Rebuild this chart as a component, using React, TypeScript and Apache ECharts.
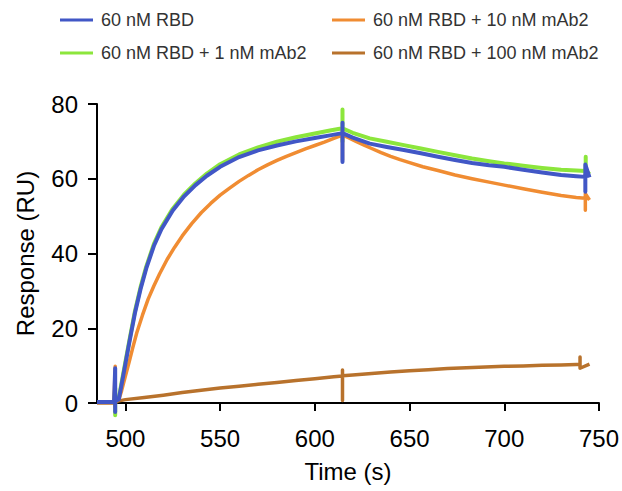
import React, { useEffect, useRef } from "react";
import * as echarts from "echarts";

const seriesNames = [
  "60 nM RBD",
  "60 nM RBD + 10 nM mAb2",
  "60 nM RBD + 1 nM mAb2",
  "60 nM RBD + 100 nM mAb2",
];
const seriesColors = ["#4157c6", "#f08c32", "#8ce63c", "#b8722c"];

const xTicks = [500, 550, 600, 650, 700, 750];

// 60 nM RBD (blue)
const blueT = [485, 490, 494, 494.6, 494.6, 494.6, 496.5, 498, 500, 502, 505, 508, 511, 515, 519, 525, 531, 537, 543, 550, 560, 570, 580, 590, 600, 608, 614.6, 614.6, 614.6, 614.6, 620, 629, 638, 647, 656, 665, 674, 683, 692, 700, 710, 720, 730, 738, 742.8, 742.8, 742.8, 745];
const blueV = [0.3, 0.3, 0.3, 9.3, -2.4, 0.5, 1.0, 5, 10.5, 16, 24, 30.5, 36, 42, 46.5, 51.5, 55.3, 58.3, 60.8, 63.2, 65.8, 67.6, 68.9, 70, 70.9, 71.6, 72.2, 64.5, 75, 72.2, 71, 69.4, 68.5, 67.7, 66.8, 65.9, 65, 64.2, 63.6, 63.2, 62.4, 61.7, 61, 60.7, 60.5, 56.5, 63.8, 60.4];

// 60 nM RBD + 10 nM mAb2 (orange)
const orangeT = [485, 490, 494, 494.6, 494.6, 494.6, 496.5, 498, 500, 502, 504, 506, 509, 512, 515, 518, 522, 526, 530, 535, 540, 545, 550, 555, 560, 565, 570, 575, 580, 585, 590, 595, 600, 605, 610, 614.6, 614.6, 614.6, 618, 622, 626, 630, 635, 640, 645, 650, 657, 665, 674, 683, 692, 700, 710, 720, 730, 738, 742.8, 742.8, 742.8, 745];
const orangeV = [0.2, 0.2, 0.2, 9.8, -1, 0.3, 0.8, 3.3, 7.2, 11.0, 15.0, 18.8, 23.5, 27.8, 31.3, 34.5, 38.4, 41.7, 44.7, 48.0, 50.9, 53.4, 55.6, 57.5, 59.3, 60.9, 62.4, 63.7, 64.9, 66.0, 67.0, 68.0, 68.9, 69.8, 70.8, 71.7, 65, 71.7, 70.9, 69.9, 69.0, 68.1, 67.0, 66.0, 65.1, 64.3, 63.2, 62.2, 61.0, 60.0, 59.1, 58.3, 57.3, 56.4, 55.5, 55.0, 54.8, 51.6, 56, 54.3];

// 60 nM RBD + 1 nM mAb2 (green)
const greenT = [485, 490, 494, 494.6, 494.6, 494.6, 496.5, 498, 500, 502, 505, 508, 511, 515, 519, 525, 531, 537, 543, 550, 560, 570, 580, 590, 600, 608, 614.6, 614.6, 614.6, 614.6, 620, 629, 638, 647, 656, 665, 674, 683, 692, 700, 710, 720, 730, 738, 743, 743, 743, 745];
const greenV = [0.3, 0.3, 0.3, 4, -3.3, 0.5, 1.2, 5.5, 11, 16.5, 24.5, 31, 36.5, 42.5, 47, 52, 55.8, 58.8, 61.4, 63.9, 66.5, 68.4, 69.9, 71.1, 72.1, 72.9, 73.5, 78.5, 70, 73.5, 72.3, 70.8, 69.9, 69, 68.1, 67.2, 66.3, 65.4, 64.7, 64.1, 63.5, 62.9, 62.4, 62.2, 62.1, 65.9, 61, 62];

// 60 nM RBD + 100 nM mAb2 (brown)
const brownT = [485, 490, 494, 496, 500, 510, 520, 530, 540, 550, 560, 570, 580, 590, 600, 610, 614.6, 614.6, 614.6, 614.6, 620, 630, 640, 650, 660, 670, 680, 690, 700, 710, 720, 730, 738, 740, 740, 740, 745];
const brownV = [0, 0, 0, 0.5, 0.9, 1.5, 2.1, 2.8, 3.4, 4.0, 4.5, 5.0, 5.5, 6.0, 6.5, 7.0, 7.2, 0.7, 8.8, 7.3, 7.5, 7.9, 8.3, 8.6, 8.9, 9.2, 9.4, 9.6, 9.8, 9.9, 10.1, 10.2, 10.3, 10.3, 12.3, 9.3, 10.4];

const zip = (t: number[], v: number[]) => t.map((x, i) => [x, v[i]]);

const FONT = "'Liberation Sans', Arial, sans-serif";

export default function App() {
  const ref = useRef<HTMLDivElement>(null);
  useEffect(() => {
    const chart = echarts.init(ref.current!, null, { renderer: "svg" });
    const mk = (idx: number, t: number[], v: number[], width: number, z: number) => ({
      type: "line",
      name: seriesNames[idx],
      data: zip(t, v),
      showSymbol: false,
      symbol: "none",
      clip: false,
      z,
      color: seriesColors[idx],
      itemStyle: { color: seriesColors[idx] },
      lineStyle: { color: seriesColors[idx], width, join: "round" },
      emphasis: { disabled: true },
    });
    const legendCommon = {
      orient: "vertical",
      icon: "rect",
      itemWidth: 33,
      itemHeight: 3,
      itemGap: 13,
      top: 5,
      textStyle: { fontFamily: FONT, fontSize: 18, color: "#333", lineHeight: 20, padding: [0, 0, 0, 3] },
    };
    chart.setOption({
      animation: false,
      grid: { left: 97, right: 22, top: 104, bottom: 88, containLabel: false },
      legend: [
        { ...legendCommon, left: 55, data: [seriesNames[0], seriesNames[2]] },
        { ...legendCommon, left: 327, data: [seriesNames[1], seriesNames[3]] },
      ],
      xAxis: {
        type: "value",
        min: 485,
        max: 750,
        name: "Time (s)",
        nameLocation: "middle",
        nameGap: 56,
        nameTextStyle: { fontFamily: FONT, fontSize: 24, color: "#000" },
        axisLine: { lineStyle: { color: "#000", width: 2 } },
        axisTick: { customValues: xTicks, length: 8, lineStyle: { color: "#000", width: 2 } },
        axisLabel: { customValues: xTicks, fontFamily: FONT, fontSize: 24, color: "#000", margin: 23 },
        splitLine: { show: false },
      },
      yAxis: {
        type: "value",
        min: 0,
        max: 80,
        interval: 20,
        name: "Response (RU)",
        nameLocation: "middle",
        nameGap: 60,
        nameTextStyle: { fontFamily: FONT, fontSize: 24, color: "#000" },
        axisLine: { show: true, lineStyle: { color: "#000", width: 2 } },
        axisTick: { show: true, length: 9, lineStyle: { color: "#000", width: 2 } },
        axisLabel: { fontFamily: FONT, fontSize: 24, color: "#000", margin: 19 },
        splitLine: { show: false },
      },
      series: [
        mk(2, greenT, greenV, 4, 2),
        mk(1, orangeT, orangeV, 3.5, 3),
        mk(3, brownT, brownV, 3.5, 4),
        mk(0, blueT, blueV, 4, 5),
      ],
    });
    return () => chart.dispose();
  }, []);
  return <div ref={ref} style={{ position: "absolute", left: 0, top: 0, width: 622, height: 491 }} />;
}
